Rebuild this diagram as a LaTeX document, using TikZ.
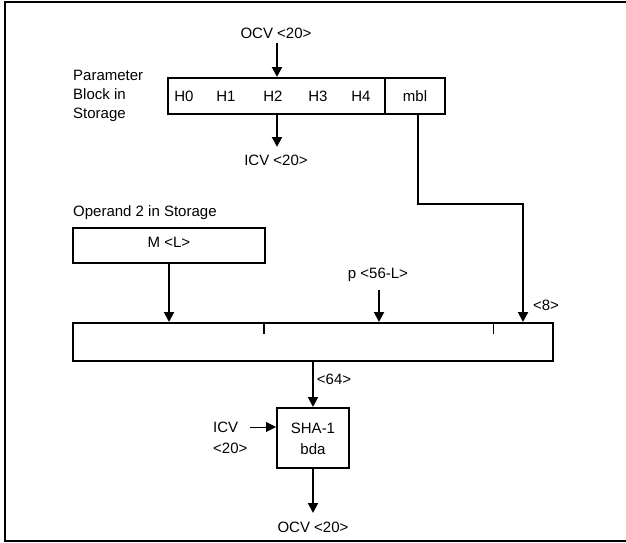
\documentclass[tikz,border=0pt]{standalone}
\usepackage{fontspec}
\setmainfont{Liberation Sans}
\usetikzlibrary{arrows.meta}
\begin{document}
\begin{tikzpicture}[x=1pt,y=-1pt,
  every node/.style={font=\fontsize{15}{19}\selectfont, inner sep=1pt},
  box/.style={draw, line width=2pt, rectangle, inner sep=0pt},
  lbl/.style={},
  arr/.style={line width=2pt, -{Triangle[length=10pt,width=10pt]}},
  thinarr/.style={line width=1pt, -{Triangle[length=10pt,width=10pt]}},
  wire/.style={line width=2pt}]
\useasboundingbox (0,0) rectangle (626,543);
% frame (open on the right)
\draw[line width=2.5pt] (626,2) -- (5,2) -- (5,541) -- (626,541);

% parameter block
\node[box, minimum width=217pt, minimum height=36pt] (pb) at (276.5,96) {};
\node[box, minimum width=60pt, minimum height=36pt] (mbl) at (415,96) {mbl};
\node[lbl] (h0) at (184,96) {H0};
\node[lbl] (h1) at (226,96) {H1};
\node[lbl] (h2) at (273,96) {H2};
\node[lbl] (h3) at (318,96) {H3};
\node[lbl] (h4) at (361,96) {H4};
\node[lbl, anchor=west, align=left] (plabel) at (72,96) {Parameter\\Block in\\Storage};

\node[lbl] (ocvT) at (276,33) {OCV <20>};
\node[lbl] (icvT) at (276,160) {ICV <20>};
\draw[arr] ([xshift=1pt,yshift=-10pt]ocvT.center) -- ([xshift=1pt]ocvT.center |- pb.north);
\draw[arr] ([xshift=1pt]icvT.center |- pb.south) -- ([xshift=1pt,yshift=13pt]icvT.center);

% operand
\node[lbl, anchor=west] (olabel) at (72,213) {Operand 2 in Storage};
\node[box, minimum width=192pt, minimum height=35pt] (m) at (169,245.5) {};
\node[lbl] (mtext) at (169,242) {M <L>};

% big box
\node[box, minimum width=480pt, minimum height=38pt] (big) at (313,342) {};
\coordinate (t1) at (264,334);
\coordinate (t2) at (493,334);
\draw[wire] (t1) -- (t1 |- big.north);
\draw[line width=1pt] (t2) -- (t2 |- big.north);

\draw[arr] (m.south) -- (m.south |- big.north);

\node[lbl] (p) at (378,275) {p <56-L>};
\draw[arr] ([xshift=1pt,yshift=-15pt]p.center) -- ([xshift=1pt]p.center |- big.north);

\coordinate (bend1) at (418,204);
\coordinate (bend2) at (523,204);
\node[lbl] (eight) at (546,305) {<8>};
\draw[arr] (bend1 |- mbl.south) -- (bend1) -- (bend2) -- (bend2 |- big.north);

% SHA-1
\node[box, minimum width=72pt, minimum height=60pt] (sha) at (313,438) {};
\node[lbl] (sha1) at (313,428) {SHA-1};
\node[lbl] (bda) at (313,449) {bda};
\node[lbl] (n64) at (334,379) {<64>};
\draw[arr] (big.south) -- (sha.north);

\node[lbl, anchor=west] (icv1) at (212,427) {ICV};
\node[lbl, anchor=west] (icv2) at (212,448) {<20>};
\draw[thinarr] ([xshift=11pt]icv1.east) -- (sha.west |- icv1);

\node[lbl] (ocvB) at (313,527) {OCV <20>};
\draw[arr] (sha.south) -- ([yshift=14pt]ocvB.center);
\end{tikzpicture}
\end{document}
